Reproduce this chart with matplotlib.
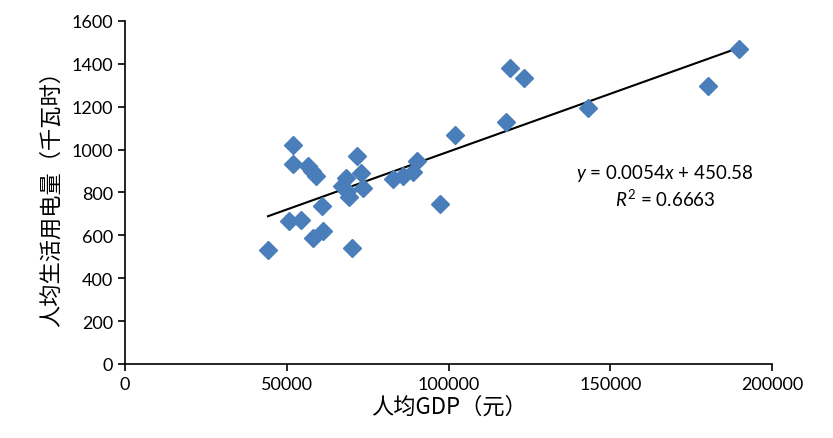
import matplotlib.pyplot as plt
import numpy as np

plt.rcParams['font.family'] = ['Lato', 'Noto Sans CJK SC', 'DejaVu Sans']
plt.rcParams['mathtext.fontset'] = 'custom'
plt.rcParams['mathtext.rm'] = 'Lato'
plt.rcParams['mathtext.it'] = 'Lato:italic'

# per-capita GDP (yuan) and per-capita household electricity use (kWh)
gdp = [44200, 50700, 54400, 60800, 58000, 61100, 70300, 51800, 51800, 56500,
       57700, 59000, 71600, 73000, 68200, 67200, 69100, 68500, 73700, 82700,
       86000, 88900, 90100, 97200, 102000, 119000, 123400, 117700, 143200,
       180300, 189800]
power = [532, 668, 673, 735, 586, 619, 541, 1023, 931, 925,
         900, 878, 972, 889, 867, 829, 777, 808, 821, 863,
         878, 897, 948, 746, 1070, 1379, 1334, 1127, 1193,
         1298, 1469]

slope, intercept = 0.0054, 450.58
xticks = [0, 50000, 100000, 150000, 200000]
yticks = list(range(0, 1601, 200))

fig = plt.figure(figsize=(8.33, 4.39), dpi=100)
ax = fig.add_axes([0.150, 0.1686, 0.777, 0.7813])

ax.plot(gdp, power, 'D', color='#4A7EBB', ms=9, mec='#4A7EBB', zorder=3)

xs = np.array([min(gdp), max(gdp)])
ax.plot(xs, slope * xs + intercept, color='black', lw=1.5, zorder=2)

ax.set_xlim(0, 200000)
ax.set_ylim(0, 1600)
ax.set_xticks(xticks)
ax.set_yticks(yticks)
ax.tick_params(labelsize=13, direction='out', length=5, width=1.2)
for s in ['top', 'right']:
    ax.spines[s].set_visible(False)
for s in ['left', 'bottom']:
    ax.spines[s].set_linewidth(1.2)

ax.set_xlabel('人均GDP（元）', fontsize=16, family=['Noto Sans CJK SC'], labelpad=2)
ax.set_ylabel('人均生活用电量（千瓦时）', fontsize=16, family=['Noto Sans CJK SC'], labelpad=6)

ax.text(166900, 891, '$y$ = 0.0054$x$ + 450.58', fontsize=13.5, ha='center', va='center')
ax.text(166900, 774, '$R^2$ = 0.6663', fontsize=13.5, ha='center', va='center')

fig.savefig('out.png', dpi=100)
